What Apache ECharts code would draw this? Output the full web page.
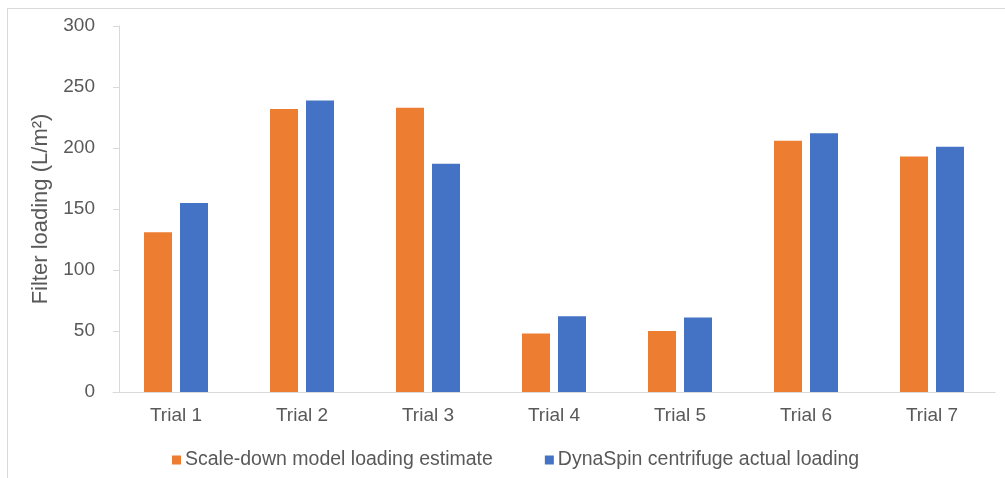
<!DOCTYPE html>
<html>
<head>
<meta charset="utf-8">
<script src="https://cdn.jsdelivr.net/npm/echarts@6/dist/echarts.min.js"></script>
<style>
  html, body { margin: 0; padding: 0; background: #fff; }
  #chart { position: absolute; left: 0; top: 0; width: 1005px; height: 478px; }
  #frame { position: absolute; left: 7px; top: 8px; right: 0; bottom: 0;
           border-top: 1px solid #D9D9D9; border-left: 1px solid #D9D9D9; pointer-events: none; }
</style>
</head>
<body>
<div id="chart"></div>
<div id="frame"></div>
<script>
const categories = ['Trial 1', 'Trial 2', 'Trial 3', 'Trial 4', 'Trial 5', 'Trial 6', 'Trial 7'];
const scaleDownEstimate = [131, 232, 233, 48, 50, 206, 193];
const dynaSpinActual = [155, 239, 187, 62, 61, 212, 201];
const yTicks = [0, 50, 100, 150, 200, 250, 300];
const seriesNames = ['Scale-down model loading estimate', 'DynaSpin centrifuge actual loading'];

const FONT = '"Liberation Sans", Arial, sans-serif';
const TXT = '#595959';

const chart = echarts.init(document.getElementById('chart'), null, { renderer: 'canvas' });
chart.setOption({
  animation: false,
  backgroundColor: '#ffffff',
  textStyle: { fontFamily: FONT },
  grid: { left: 113, right: 10, top: 26, bottom: 86, containLabel: false },
  legend: {
    data: seriesNames,
    left: 167, top: 445,
    itemWidth: 9, itemHeight: 9, itemGap: 52,
    icon: 'rect',
    textStyle: { fontSize: 19.5, color: TXT, fontFamily: FONT, padding: [0, 0, 0, -1] }
  },
  xAxis: {
    type: 'category',
    data: categories,
    axisLine: { lineStyle: { color: '#D9D9D9', width: 1 } },
    axisTick: { show: false },
    axisLabel: { fontSize: 19, color: TXT, fontFamily: FONT, margin: 14 }
  },
  yAxis: {
    type: 'value',
    min: yTicks[0], max: yTicks[yTicks.length - 1], interval: 50,
    offset: -6,
    name: 'Filter loading (L/m\u00B2)',
    nameLocation: 'middle',
    nameGap: 66,
    nameTextStyle: { fontSize: 22, color: TXT, fontFamily: FONT },
    axisLine: { show: true, lineStyle: { color: '#D9D9D9', width: 1 } },
    axisTick: { show: true, length: 6, lineStyle: { color: '#D9D9D9' } },
    splitLine: { show: false },
    axisLabel: { fontSize: 19, color: TXT, fontFamily: FONT, margin: 24 }
  },
  series: [
    { name: seriesNames[0], type: 'bar', data: scaleDownEstimate,
      itemStyle: { color: '#ED7D31' }, barWidth: 28, barGap: '28.6%' },
    { name: seriesNames[1], type: 'bar', data: dynaSpinActual,
      itemStyle: { color: '#4472C4' }, barWidth: 28, barGap: '28.6%' }
  ]
});
</script>
</body>
</html>
